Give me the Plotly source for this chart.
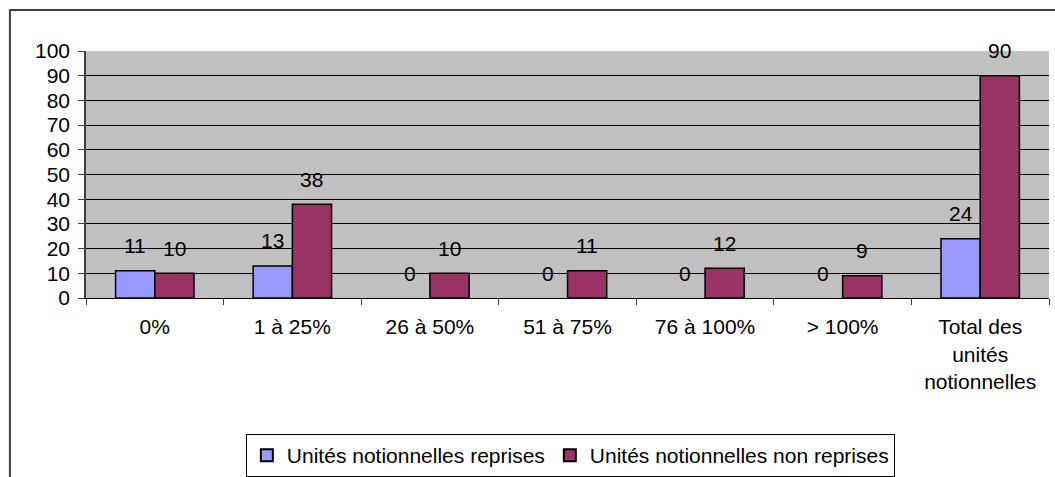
import plotly.graph_objects as go

# Distribution des unités notionnelles par tranche
categories = ["0%", "1 à 25%", "26 à 50%", "51 à 75%", "76 à 100%", "> 100%",
              "Total des<br>unités<br>notionnelles"]
reprises = [11, 13, 0, 0, 0, 0, 24]
non_reprises = [10, 38, 10, 11, 12, 9, 90]
y_ticks = list(range(0, 101, 10))

BLUE = "#9999FF"
PLUM = "#993366"
BARGAP = 0.43
FONT = "Liberation Sans, Arial, sans-serif"
SIZE = 21


def outline(values):
    # no outline on empty bars, so they stay invisible
    return [1.5 if v else 0 for v in values]


fig = go.Figure()
fig.add_trace(go.Bar(name="Unités notionnelles reprises", x=categories, y=reprises,
                     marker=dict(color=BLUE, line=dict(color="black", width=outline(reprises)))))
fig.add_trace(go.Bar(name="Unités notionnelles non reprises", x=categories, y=non_reprises,
                     marker=dict(color=PLUM, line=dict(color="black", width=outline(non_reprises)))))

# Value labels above each bar (category index ± half a bar width)
half = (1 - BARGAP) / 4
annotations = []
for i, (a, b) in enumerate(zip(reprises, non_reprises)):
    for dx, v in ((-half, a), (half, b)):
        annotations.append(dict(x=i + dx, y=v, xref="x", yref="y", text=str(v),
                                showarrow=False, yshift=25, yanchor="middle",
                                font=dict(size=SIZE, color="black", family=FONT)))

fig.update_layout(
    width=1055, height=477,
    margin=dict(l=86, r=6, t=51, b=179, autoexpand=False),
    paper_bgcolor="white", plot_bgcolor="#C0C0C0",
    barmode="group", bargap=BARGAP, bargroupgap=0,
    font=dict(family=FONT, size=SIZE, color="black"),
    annotations=annotations,
    showlegend=True,
    legend=dict(orientation="h", x=0.166, xanchor="left", y=-0.551, yanchor="top",
                bordercolor="black", borderwidth=1, bgcolor="white",
                font=dict(size=SIZE, family=FONT), itemsizing="constant"),
    shapes=[dict(type="rect", xref="paper", yref="paper", x0=-0.079, x1=1.2,
                 y0=-1.0, y1=1.166, line=dict(color="#404040", width=2),
                 fillcolor="rgba(0,0,0,0)", layer="below")],
)
fig.update_xaxes(type="category", tickson="boundaries", ticks="outside", ticklen=6,
                 tickcolor="#404040", showline=True, linecolor="black", linewidth=1,
                 showgrid=False, tickfont=dict(size=SIZE), range=[-0.5, 6.5],
                 ticklabelstandoff=10)
fig.update_yaxes(range=[0, 100], tickvals=y_ticks, ticks="outside", ticklen=6,
                 tickcolor="#404040", showline=True, linecolor="#404040", linewidth=1.5,
                 showgrid=True, gridcolor="black", gridwidth=1, zeroline=False,
                 tickfont=dict(size=SIZE), ticklabelstandoff=4)

fig.write_html("out.html")
